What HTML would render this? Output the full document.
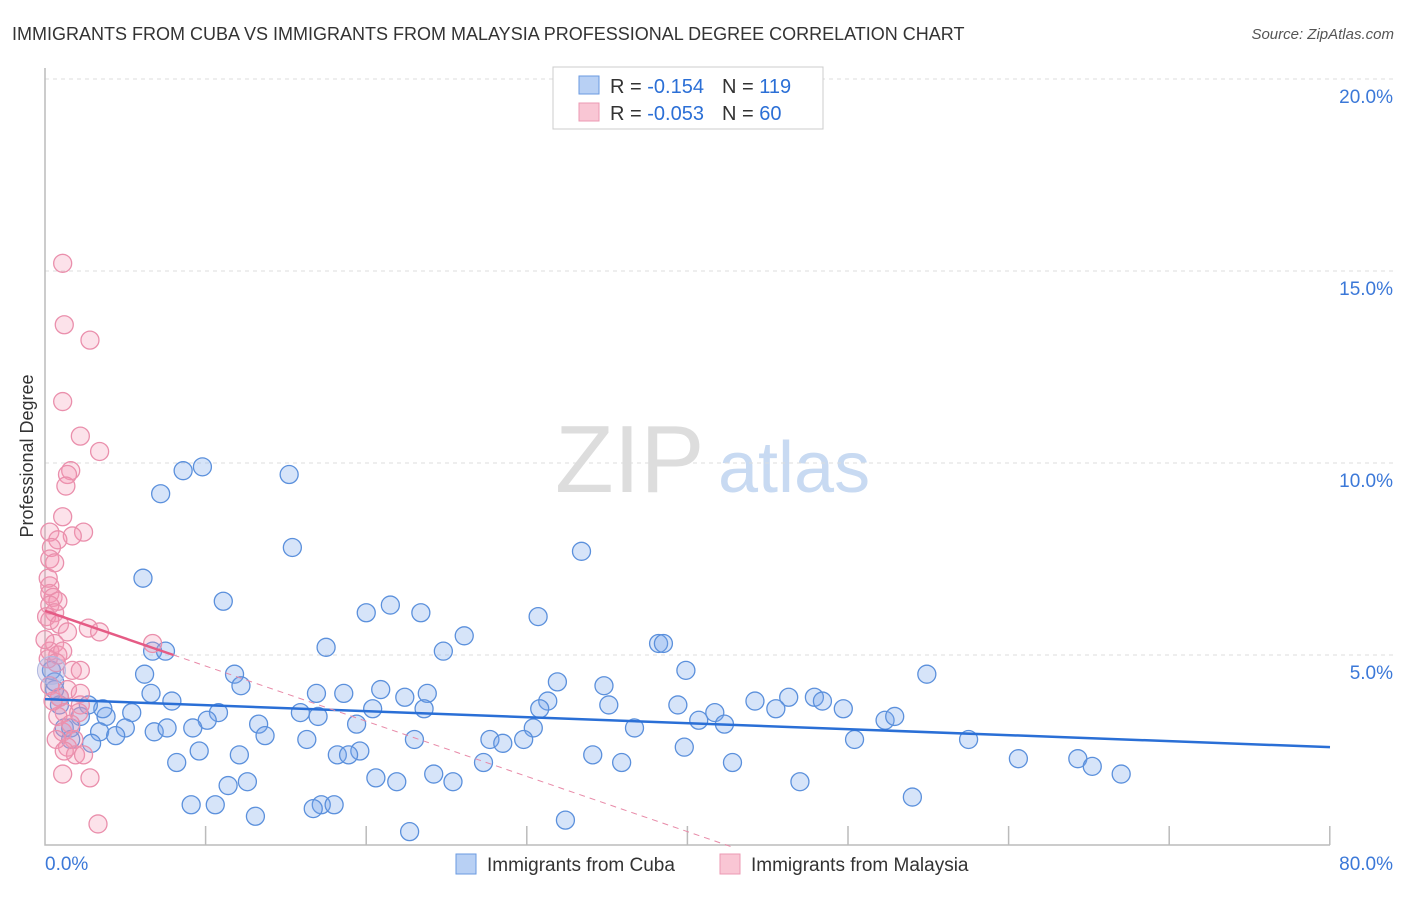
<!DOCTYPE html>
<html><head><meta charset="utf-8"><style>
body{margin:0;background:#fff;font-family:"Liberation Sans",sans-serif;}
svg text{font-family:"Liberation Sans",sans-serif;}
</style></head><body>
<svg id="chart" width="1406" height="892">
<text x="12" y="40" font-size="18" fill="#333">IMMIGRANTS FROM CUBA VS IMMIGRANTS FROM MALAYSIA PROFESSIONAL DEGREE CORRELATION CHART</text>
<text x="1394" y="39" font-size="15" fill="#555" font-style="italic" text-anchor="end">Source: ZipAtlas.com</text>
<text x="33" y="456" font-size="18" fill="#333" text-anchor="middle" transform="rotate(-90 33 456)">Professional Degree</text>
<text x="555" y="492" font-size="96" fill="#ddd" font-family="Liberation Serif">ZIP</text>
<text x="718" y="492" font-size="72" fill="#c8daf2">atlas</text>
<g id="grid"></g>
<g id="pts"></g>
<g id="lines"></g>
<g>
<rect x="553" y="67" width="270" height="62" fill="#fff" stroke="#ccc"/>
<rect x="579" y="76" width="20" height="18" fill="#b8d0f4" stroke="#6a9ae0"/>
<rect x="579" y="103" width="20" height="18" fill="#f9c6d4" stroke="#ec9ab3"/>
<text x="610" y="93" font-size="20" fill="#333">R = <tspan fill="#2b6fd6">-0.154</tspan><tspan dx="18">N = </tspan><tspan fill="#2b6fd6">119</tspan></text>
<text x="610" y="120" font-size="20" fill="#333">R = <tspan fill="#2b6fd6">-0.053</tspan><tspan dx="18">N = </tspan><tspan fill="#2b6fd6"> 60</tspan></text>
</g>
<g>
<rect x="456" y="854" width="20" height="20" fill="#b8d0f4" stroke="#6a9ae0"/>
<text x="487" y="871" font-size="19" fill="#333">Immigrants from Cuba</text>
<rect x="720" y="854" width="20" height="20" fill="#f9c6d4" stroke="#ec9ab3"/>
<text x="751" y="871" font-size="19" fill="#333">Immigrants from Malaysia</text>
</g>
</svg>
<script>
const yTicks=[5,10,15,20];
const xTickLabels=["0.0%","80.0%"];
const cubaX=[8.6,9.8,15.2,7.2,15.4,33.4,6.1,11.1,21.5,20,23.4,30.7,26.1,38.2,38.5,17.5,24.8,6.7,7.5,39.9,54.9,6.2,11.8,12.2,6.6,7.9,20.9,18.6,16.9,22.4,23.8,31.9,34.8,31.3,30.8,35.1,39.4,44.2,46.3,45.5,47.9,48.4,49.7,41.7,52.3,52.9,23.6,20.4,15.9,17,10.8,10.1,9.2,5.4,3.8,3.6,2.7,0.9,0.6,2.2,1.2,1.6,3.4,5,4.4,6.8,7.6,13.3,13.7,19.4,30.4,36.7,40.7,42.3,2.9,16.3,23,27.7,28.5,29.8,50.4,57.5,39.8,34.1,9.6,12.1,18.2,19.6,18.9,8.2,27.3,35.9,42.8,60.6,64.3,65.2,67,12.6,11.4,20.6,21.9,24.2,25.4,47,9.1,10.6,17.2,18,16.7,13.1,22.7,32.4,54,0.4,0.6,0.9,1.6];
const cubaY=[9.8,9.9,9.7,9.2,7.8,7.7,7,6.4,6.3,6.1,6.1,6,5.5,5.3,5.3,5.2,5.1,5.1,5.1,4.6,4.5,4.5,4.5,4.2,4.0,3.8,4.1,4.0,4.0,3.9,4.0,4.3,4.2,3.8,3.6,3.7,3.7,3.8,3.9,3.6,3.9,3.8,3.6,3.5,3.3,3.4,3.6,3.6,3.5,3.4,3.5,3.3,3.1,3.5,3.4,3.6,3.7,3.9,4.1,3.4,3.1,3.1,3.0,3.1,2.9,3.0,3.1,3.2,2.9,3.2,3.1,3.1,3.3,3.2,2.7,2.8,2.8,2.8,2.7,2.8,2.8,2.8,2.6,2.4,2.5,2.4,2.4,2.5,2.4,2.2,2.2,2.2,2.2,2.3,2.3,2.1,1.9,1.7,1.6,1.8,1.7,1.9,1.7,1.7,1.1,1.1,1.1,1.1,1.0,0.8,0.4,0.7,1.3,4.6,4.3,3.7,2.8];
const malX=[1.1,1.2,2.8,1.1,2.2,3.4,1.6,1.4,1.3,1.1,0.3,2.4,1.7,0.8,0.4,0.3,0.6,0.3,0.3,0.5,0.8,0.3,0.6,0.1,0.3,0.9,1.4,2.7,3.4,6.7,0.6,0.3,0.8,1.1,0.2,0.7,1.7,2.2,0.3,1.4,0.9,2.2,1.2,0.8,2.2,2.1,1.1,1.8,1.4,1.9,2.4,1.1,2.8,3.3,0.5,0.7,0.2,0,1.2,1.6];
const malY=[15.2,13.6,13.2,11.6,10.7,10.3,9.8,9.7,9.4,8.6,8.2,8.2,8.1,8.0,7.8,7.5,7.4,6.8,6.6,6.5,6.4,6.3,6.1,6.0,5.9,5.8,5.6,5.7,5.6,5.3,5.3,5.1,5.0,5.1,4.9,4.8,4.6,4.6,4.2,4.1,3.9,4.0,3.5,3.4,3.7,3.5,3.0,2.8,2.6,2.4,2.4,1.9,1.8,0.6,3.8,2.8,7.0,5.4,2.5,3.2];
const cubaTrend=[3.85,2.6];
const malTrend=[6.15,5.0,0];
const X0=45,X1=1330,Y0=847,PY=38.4;
const sx=v=>X0+(v/80)*(X1-X0);
const sy=v=>Y0-v*PY;
const NS="http://www.w3.org/2000/svg";
function mk(tag,attrs,parent){const e=document.createElementNS(NS,tag);for(const k in attrs)e.setAttribute(k,attrs[k]);parent.appendChild(e);return e;}
const g=document.getElementById('grid');
yTicks.forEach(t=>{
 const l=mk('line',{x1:45,x2:1394,y1:sy(t),y2:sy(t),stroke:'#ddd','stroke-dasharray':'4,4'},g);
 
 
 const tx=mk('text',{x:1393,y:sy(t)+24,'font-size':19,fill:'#3b78d8','text-anchor':'end'},g);
 tx.textContent=t.toFixed(1)+'%';
 
 
});
const ax=mk('path',{d:'M45 68 V845 H1330',fill:'none',stroke:'#bbb','stroke-width':1.5},g);


for(let i=1;i<=8;i++){const x=45+i*160.6;const tk=mk('line',{x1:x,x2:x,y1:826,y2:845,stroke:'#bbb','stroke-width':1.5},g);

}
const l0=mk('text',{x:45,y:870,'font-size':19,fill:'#3b78d8'},g);l0.textContent=xTickLabels[0];


const l1=mk('text',{x:1393,y:870,'font-size':19,fill:'#3b78d8','text-anchor':'end'},g);l1.textContent=xTickLabels[1];


const p=document.getElementById('pts');
cubaX.forEach((v,i)=>{const c=mk('circle',{cx:sx(v),cy:sy(cubaY[i]),r:9,fill:'rgba(120,165,235,0.3)',stroke:'#5b90dc','stroke-width':1.3},p);

});
malX.forEach((v,i)=>{const c=mk('circle',{cx:sx(v),cy:sy(malY[i]),r:9,fill:'rgba(245,150,180,0.28)',stroke:'#ea8fac','stroke-width':1.3},p);

});
const big=mk('circle',{cx:sx(0.4),cy:sy(4.6),r:14,fill:'rgba(170,170,220,0.35)',stroke:'#b0b8e0'},p);


const L=document.getElementById('lines');
const bl=mk('line',{x1:sx(0),y1:sy(cubaTrend[0]),x2:sx(80),y2:sy(cubaTrend[1]),stroke:'#2a6fd6','stroke-width':2.5},L);


const pl=mk('line',{x1:sx(0),y1:sy(malTrend[0]),x2:sx(8),y2:sy(malTrend[1]),stroke:'#e55b85','stroke-width':2.5},L);


const slope=(malTrend[1]-malTrend[0])/8;const xe=-malTrend[0]/slope;
const pd=mk('line',{x1:sx(8),y1:sy(malTrend[1]),x2:sx(xe),y2:sy(0),stroke:'#e88aa8','stroke-width':1,'stroke-dasharray':'6,5'},L);


</script>
</body></html>
